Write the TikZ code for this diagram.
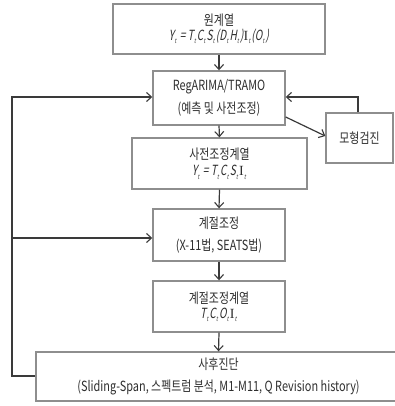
\documentclass[tikz,border=0pt]{standalone}
\usepackage{fontspec}
\usetikzlibrary{arrows.meta}
\newfontfamily\kr[FakeStretch=0.78]{Noto Sans CJK KR}
\newfontfamily\krit[FakeStretch=0.72,FakeSlant=0.18]{Noto Sans CJK KR}
\newfontfamily\serI{Liberation Serif}
\newcommand\tsub{\kern0.3pt\raisebox{-0.45ex}{\fontsize{6.5}{6.5}\selectfont t}\kern1.2pt}
\definecolor{boxgray}{HTML}{8E8E8E}
\definecolor{linec}{HTML}{3A3A3A}
\definecolor{textc}{HTML}{2E2E2E}
\tikzset{
  box/.style={draw=boxgray, line width=1.4pt, fill=white, inner sep=0pt,
    text=textc, align=center, font=\kr\fontsize{14}{22.5}\selectfont},
  conn/.style={draw=linec, line width=1.2pt, -{Straight Barb[length=5pt,width=9pt,line width=1.1pt]}},
  plain/.style={draw=linec, line width=1.2pt}
}
\begin{document}
\begin{tikzpicture}[x=1pt,y=-1pt]
\useasboundingbox (0,0) rectangle (394,406);
\node[box, minimum width=212pt, minimum height=50pt] (b1) at (219,29)
  {원계열\\[-7.5pt]{\krit Y\tsub\ = T\tsub C\tsub S\tsub(D\tsub H\tsub){\serI I}\tsub(O\tsub)}};
\node[box, minimum width=132pt, minimum height=54pt] (b2) at (219,98)
  {RegARIMA/TRAMO\\(예측 및 사전조정)};
\node[box, minimum width=175pt, minimum height=51pt] (b3) at (219.5,163.5)
  {사전조정계열\\[-6pt]{\krit Y\tsub\ = T\tsub C\tsub S\tsub{\serI I}\tsub}};
\node[box, minimum width=132pt, minimum height=52pt] (b4) at (219,235)
  {계절조정\\(X-11법, SEATS법)};
\node[box, minimum width=132pt, minimum height=51pt] (b5) at (219,306.5)
  {계절조정계열\\[-7.5pt]{\krit T\tsub C\tsub O\tsub{\serI I}\tsub}};
\node[box, minimum width=365pt, minimum height=49pt] (b6) at (218.5,376.5)
  {사후진단\\(Sliding-Span, 스펙트럼 분석, M1-M11, Q Revision history)};
\node[box, minimum width=67pt, minimum height=50pt] (b7) at (359.5,138)
  {모형검진};
\coordinate (c7top) at (358,97);
\coordinate (cl1) at (12,376);
\coordinate (cl2) at (12,97);
\coordinate (cl3) at (12,238);
\draw[conn] (b1.south) -- (b2.north);
\draw[conn] (b2.south) -- (b3.north);
\draw[conn] (b3.south) -- (b4.north);
\draw[conn] (b4.south) -- (b5.north);
\draw[conn] (b5.south) -- (b6.north);
\draw[conn] (b2.east |- 0,117) -- (b7.west |- 0,136);
\draw[conn] (b7.north -| c7top) -- (c7top) -- (b2.east |- c7top);
\draw[conn] (b6.west |- cl1) -- (cl1) -- (cl2) -- (b2.west |- cl2);
\draw[conn] (cl3) -- (b4.west |- cl3);
\end{tikzpicture}
\end{document}
